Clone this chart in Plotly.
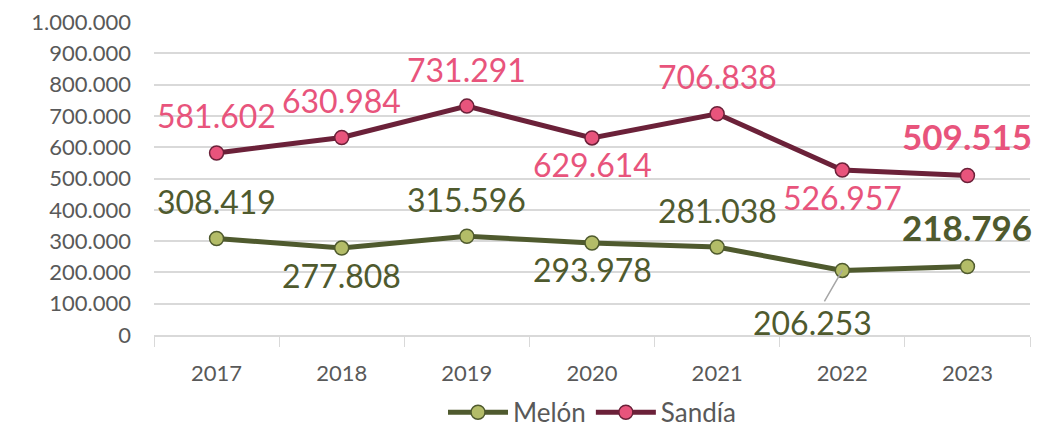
import plotly.graph_objects as go

years = ["2017", "2018", "2019", "2020", "2021", "2022", "2023"]
melon = [308419, 277808, 315596, 293978, 281038, 206253, 218796]
sandia = [581602, 630984, 731291, 629614, 706838, 526957, 509515]
# label placement per point: "up" / "down" / "lead" (leader line)
melon_pos = ["up", "down", "up", "down", "up", "lead", "up"]
sandia_pos = ["up", "up", "up", "down", "up", "down", "up"]

y_ticks = list(range(0, 1000001, 100000))


def fmt(v):
    return f"{v:,}".replace(",", ".")


FONT = "Lato"
GRAY = "#595959"
MELON_LINE = "#4F5A2E"
MELON_MARK = "#B3BC68"
SANDIA_LINE = "#6B2139"
SANDIA_MARK = "#E8547C"

fig = go.Figure()
fig.add_trace(go.Scatter(
    x=years, y=melon, name="Melón", mode="lines+markers",
    line=dict(color=MELON_LINE, width=5),
    marker=dict(size=14, color=MELON_MARK, line=dict(color=MELON_LINE, width=1.5)),
))
fig.add_trace(go.Scatter(
    x=years, y=sandia, name="Sandía", mode="lines+markers",
    line=dict(color=SANDIA_LINE, width=5),
    marker=dict(size=14, color=SANDIA_MARK, line=dict(color=SANDIA_LINE, width=1.5)),
))

annotations = []
for vals, pos, col in [(melon, melon_pos, MELON_LINE), (sandia, sandia_pos, SANDIA_MARK)]:
    n = len(vals)
    for i, (v, p) in enumerate(zip(vals, pos)):
        last = i == n - 1
        font = dict(family=FONT, size=35 if last else 32, color=col)
        txt = f"<b>{fmt(v)}</b>" if last else fmt(v)
        # x given as category index so it is not read as a number
        if p == "lead":
            annotations.append(dict(x=i, y=v, text=txt, font=font, showarrow=True,
                                    arrowhead=0, arrowwidth=1.5, arrowcolor="#A6A6A6",
                                    ax=-30, ay=52, standoff=0))
        else:
            shift = (40 if last else 37) if p == "up" else -27
            annotations.append(dict(x=i, y=v, text=txt, font=font, showarrow=False,
                                    yanchor="middle", yshift=shift))

# page body has an 8px margin, so the figure is a bit smaller than the window
fig.update_layout(
    width=1035, height=419,
    margin=dict(l=146, r=13, t=14, b=92, autoexpand=False),
    paper_bgcolor="white", plot_bgcolor="white",
    font=dict(family=FONT, color=GRAY),
    showlegend=True,
    legend=dict(orientation="h", x=0.5, xanchor="center", yref="container",
                y=0.035, yanchor="middle",
                font=dict(size=26, color=GRAY), itemwidth=60, traceorder="normal"),
    annotations=annotations,
)
fig.update_xaxes(
    type="category", range=[-0.5, len(years) - 0.5], automargin=False,
    showgrid=False, showline=True, linecolor="#D9D9D9", linewidth=1.5,
    ticks="outside", tickson="boundaries", ticklen=10, tickcolor="#D9D9D9",
    tickfont=dict(size=22, color=GRAY), ticklabelstandoff=18, tickangle=0,
)
fig.update_yaxes(
    range=[0, 1000000], tickvals=y_ticks, ticktext=[fmt(v) for v in y_ticks],
    automargin=False, ticklabeloverflow="allow",
    showgrid=True, gridcolor="#D9D9D9", gridwidth=1.5, zeroline=False, showline=False,
    tickfont=dict(size=22, color=GRAY), ticklabelstandoff=22,
)

fig.write_html("out.html")
